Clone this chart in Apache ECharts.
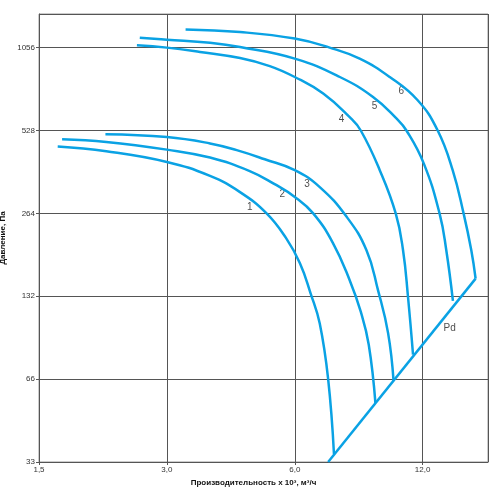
<!DOCTYPE html>
<html>
<head>
<meta charset="utf-8">
<script src="https://cdn.jsdelivr.net/npm/echarts@6/dist/echarts.min.js"></script>
<style>
  html, body { margin: 0; padding: 0; background: #fff; }
  #main { width: 500px; height: 498px; }
</style>
</head>
<body>
<div id="main"></div>
<script>
// подписи делений (оси логарифмические, шаг - удвоение)
var xTickLabels = ["1,5", "3,0", "6,0", "12,0"];
var yTickLabels = ["33", "66", "132", "264", "528", "1056"];
var xMin = 1.5, xMax = 17.1;
var yMin = 33, yMax = 1399;

// кривые: [производительность x 10^3 м3/ч, давление Па]
var curve1 = [[1.66, 462], [2.16, 444], [3.0, 406], [3.79, 361], [4.45, 316], [5.15, 264], [5.72, 215], [6.17, 174], [6.54, 135], [6.87, 105], [7.19, 66], [7.42, 35.3]];
var curve2 = [[1.70, 491], [2.16, 480], [3.0, 450], [3.79, 421], [4.70, 376], [5.38, 337], [6.0, 303], [6.63, 264], [7.38, 206], [8.08, 151], [8.58, 116], [8.96, 88], [9.29, 54]];
var curve3 = [[2.15, 512], [3.0, 500], [3.79, 474], [4.38, 448], [5.10, 415], [6.0, 379], [6.87, 329], [7.94, 257], [8.85, 194], [9.42, 139], [9.95, 97], [10.25, 65]];
var curve4 = [[2.55, 1077], [3.0, 1056], [3.59, 1019], [4.46, 968], [5.24, 905], [6.0, 826], [7.0, 719], [8.08, 590], [8.58, 528], [9.51, 379], [10.37, 264], [10.79, 194], [11.08, 132], [11.39, 81]];
var curve5 = [[2.59, 1148], [3.0, 1129], [3.79, 1099], [4.46, 1061], [6.0, 963], [7.66, 826], [9.17, 699], [10.41, 584], [10.99, 528], [12.07, 401], [13.15, 264], [13.64, 194], [14.14, 127]];
var curve6 = [[3.32, 1230], [4.46, 1203], [6.0, 1139], [7.25, 1056], [8.53, 963], [10.04, 826], [11.68, 680], [13.02, 528], [14.12, 379], [14.98, 264], [15.62, 194], [15.99, 153]];
var pdLine = [[7.19, 33], [15.99, 153]];

// номера кривых и подпись Pd
var curveLabels = [
  ["1", 4.70, 278], ["2", 5.61, 309], ["3", 6.41, 337],
  ["4", 7.73, 580], ["5", 9.25, 648], ["6", 10.69, 735],
  ["Pd", 13.89, 101]
];

var lineColor = "#0aa2e4";
var lx = function (v) { return Math.log2(v / xMin); };
var ly = function (v) { return Math.log2(v / yMin); };
var toPlot = function (arr) {
  return arr.map(function (p) { return [lx(p[0]), ly(p[1])]; });
};

var curves = [curve1, curve2, curve3, curve4, curve5, curve6];
var series = curves.map(function (c) {
  return {
    type: "line",
    data: toPlot(c),
    smooth: 0.45,
    showSymbol: false,
    lineStyle: { color: lineColor, width: 2.5 },
    silent: true
  };
});
series.push({
  type: "line",
  data: toPlot(pdLine),
  showSymbol: false,
  lineStyle: { color: lineColor, width: 2.5 },
  silent: true
});
series.push({
  type: "scatter",
  symbolSize: 0,
  data: curveLabels.map(function (l) {
    return { name: l[0], value: [lx(l[1]), ly(l[2])] };
  }),
  label: {
    show: true,
    position: "inside",
    formatter: function (p) { return p.name; },
    color: "#222",
    fontSize: 10,
    fontFamily: "Liberation Sans"
  },
  silent: true
});

var myChart = echarts.init(document.getElementById("main"));
myChart.setOption({
  animation: false,
  textStyle: { fontFamily: "Liberation Sans" },
  grid: {
    left: 39, right: 12, top: 14, bottom: 36,
    containLabel: false,
    outerBoundsMode: "none",
    show: true, borderColor: "#999", borderWidth: 1
  },
  xAxis: {
    type: "value",
    min: 0,
    max: lx(xMax),
    interval: 1,
    name: "Производительность x 10³, м³/ч",
    nameLocation: "middle",
    nameGap: 16,
    nameTextStyle: { fontSize: 8, fontWeight: "bold", color: "#111", padding: [0, 20, 0, 0] },
    axisLine: { lineStyle: { color: "#555" } },
    axisTick: { length: 3, lineStyle: { color: "#555" } },
    axisLabel: {
      fontSize: 8, color: "#333", margin: 4,
      showMaxLabel: false,
      formatter: function (v) {
        var i = Math.round(v);
        return Math.abs(v - i) < 1e-6 && xTickLabels[i] ? xTickLabels[i] : "";
      }
    },
    splitLine: { lineStyle: { color: "#555", width: 1 } }
  },
  yAxis: {
    type: "value",
    min: 0,
    max: ly(yMax),
    interval: 1,
    name: "Давление, Па",
    nameLocation: "middle",
    nameGap: 24,
    nameTextStyle: { fontSize: 8, fontWeight: "bold", color: "#111" },
    axisLine: { show: true, lineStyle: { color: "#555" } },
    axisTick: { show: true, length: 3, lineStyle: { color: "#555" } },
    axisLabel: {
      fontSize: 8, color: "#333", margin: 4,
      showMaxLabel: false,
      formatter: function (v) {
        var i = Math.round(v);
        return Math.abs(v - i) < 1e-6 && yTickLabels[i] ? yTickLabels[i] : "";
      }
    },
    splitLine: { lineStyle: { color: "#555", width: 1 } }
  },
  series: series
});
</script>
</body>
</html>
